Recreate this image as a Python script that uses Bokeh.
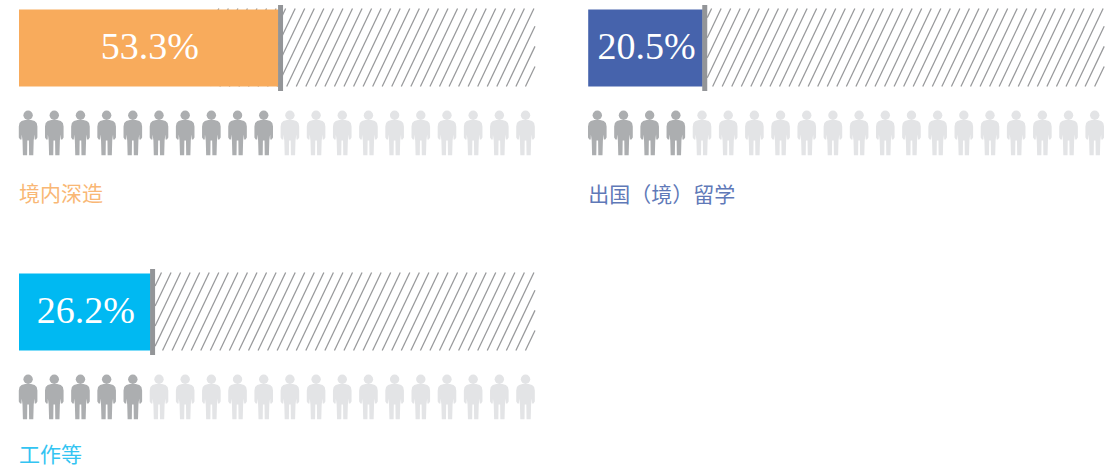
from bokeh.plotting import figure
from bokeh.models import Range1d
from bokeh.core.properties import value
from bokeh.embed import file_html
from bokeh.resources import INLINE

labels = ["境内深造", "出国（境）留学", "工作等"]
percent_text = ["53.3%", "20.5%", "26.2%"]
drawn_share = [50.3, 22.2, 25.5]      # drawn length of the filled bar, % of the track
people_dark = [10, 4, 5]
people_total = 20
colors = ["#F8AB5C", "#4663AC", "#00B9F2"]
label_colors = ["#F9B775", "#5F79B8", "#33C4F2"]

panel_x = [18.5, 587.7, 18.5]
panel_y = [9, 9, 273]
label_y = [191, 192.5, 452]
track_w = 516
bar_h = 77
GAP = 26.18
SLOPE = 2.1
PITCH = 9.55
DARK, LIGHT = "#ACAEB0", "#E3E4E6"

p = figure(width=1107, height=466, x_range=Range1d(0, 1107), y_range=Range1d(466, 0),
           output_backend="svg", toolbar_location=None, min_border=0)
p.axis.visible = False
p.grid.visible = False
p.outline_line_color = None
p.background_fill_color = "#FFFFFF"
p.border_fill_color = "#FFFFFF"

# silhouette template, relative to centre x and head top y
BODY = [(-3, 9.6), (3, 9.6), (6.5, 10.5), (8.6, 12.5), (9.3, 16), (9.3, 27), (8, 29), (6.6, 29), (6.4, 24),
        (5.6, 30), (5.2, 44.7), (1, 44.7), (0.8, 30), (-0.8, 30), (-1, 44.7), (-5.2, 44.7), (-5.6, 30),
        (-6.4, 24), (-6.6, 29), (-8, 29), (-9.3, 27), (-9.3, 16), (-8.6, 12.5), (-6.5, 10.5)]

for i in range(3):
    x0, y0 = panel_x[i], panel_y[i]
    fill_w = track_w * drawn_share[i] / 100
    end = x0 + track_w
    start = x0 + fill_w + 4.5
    if i == 0:
        start = 210
    # hatch, clipped to the track
    top, bot = y0 - 1, y0 + bar_h
    run = (bot - top) / SLOPE
    sx0, sy0, sx1, sy1 = [], [], [], []
    k = end - PITCH * int((end - start + run) / PITCH + 1)
    while k < end:
        xa, ya, xb, yb = k, bot, k + run, top
        if xa < start:
            ya = bot - (start - xa) * SLOPE
            xa = start
        if xb > end:
            yb = ya - (end - xa) * SLOPE
            xb = end
        if xb > xa:
            sx0.append(xa); sy0.append(ya); sx1.append(xb); sy1.append(yb)
        k += PITCH
    p.segment(sx0, sy0, sx1, sy1, line_color="#98999B", line_width=1.25)
    # filled bar
    p.hbar(y=[y0 + bar_h / 2], left=[x0], right=[x0 + fill_w], height=bar_h,
           fill_color=colors[i], line_color=None)
    # divider
    p.hbar(y=[y0 + bar_h / 2], left=[x0 + fill_w - 0.5], right=[x0 + fill_w + 4.5], height=86,
           fill_color="#939598", line_color=None)
    # value
    p.text([x0 + fill_w / 2 + 1], [y0 + bar_h / 2 - 2], text=[percent_text[i]], text_color="#FFFFFF",
           text_font=value("Liberation Serif"), text_font_size="38px",
           text_align="center", text_baseline="middle")
    # people
    py = y0 + 101
    for n in range(people_total):
        c = x0 + 9.1 + n * GAP
        col = DARK if n < people_dark[i] else LIGHT
        p.patch([c + a for a, _ in BODY], [py + b for _, b in BODY], fill_color=col, line_color=None)
        p.circle([c], [py + 4.7], radius=4.7, fill_color=col, line_color=None)
    # label
    p.text([x0], [label_y[i]], text=[labels[i]], text_color=label_colors[i],
           text_font=value("Noto Sans CJK SC"), text_font_size="21px",
           text_align="left", text_baseline="middle")

open("out.html", "w").write(file_html(p, INLINE))
